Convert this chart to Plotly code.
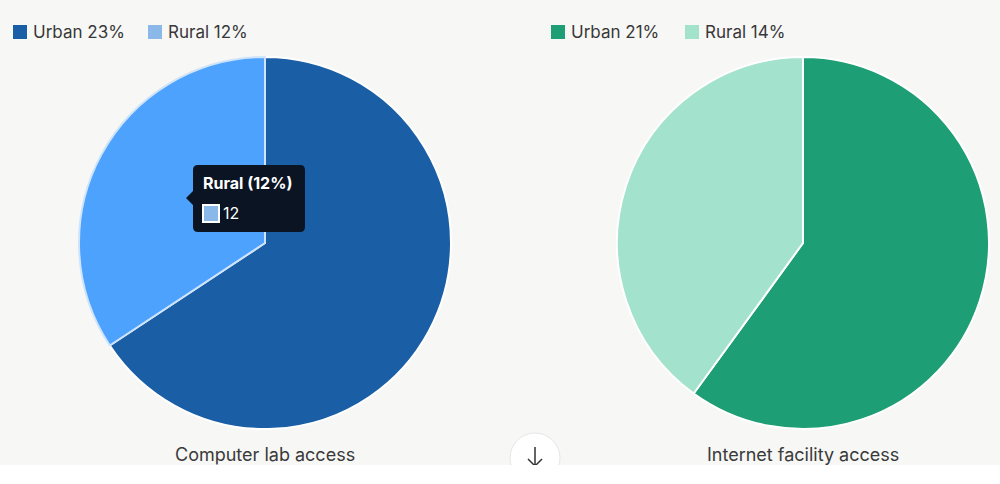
import plotly.graph_objects as go

W, H = 1000, 484

# data
categories = ["Urban", "Rural"]
computer_lab = [23, 12]
internet_access = [21, 14]
chart_titles = ["Computer lab access", "Internet facility access"]

lab_colors = ["#1a5ea6", "#4da2fe"]
lab_legend_colors = ["#1a5ea6", "#8ab8e8"]
net_colors = ["#1e9e74", "#a3e2cc"]

FONT = "Inter, Noto Sans, sans-serif"


def px(x):
    return x / W


def py(y):
    return 1 - y / H


fig = go.Figure()

fig.add_trace(go.Pie(
    labels=categories,
    values=computer_lab,
    sort=False,
    direction="clockwise",
    rotation=0,
    textinfo="none",
    hoverinfo="none",
    marker=dict(colors=lab_colors, line=dict(color=["#ffffff", "#cfe4fb"], width=2)),
    domain=dict(x=[px(79), px(451)], y=[py(429), py(57)]),
    showlegend=False,
))

fig.add_trace(go.Pie(
    labels=categories,
    values=internet_access,
    sort=False,
    direction="clockwise",
    rotation=0,
    textinfo="none",
    hoverinfo="none",
    marker=dict(colors=net_colors, line=dict(color="#ffffff", width=2)),
    domain=dict(x=[px(617), px(989)], y=[py(429), py(57)]),
    showlegend=False,
))

shapes = []
annotations = []

# legends drawn by hand (swatch + label)
legend_sets = [
    (computer_lab, lab_legend_colors, [13, 148]),
    (internet_access, net_colors, [551, 685]),
]
for values, colors, xs in legend_sets:
    for x0, label, val, col in zip(xs, categories, values, colors):
        shapes.append(dict(
            type="rect", xref="paper", yref="paper",
            x0=px(x0), x1=px(x0 + 14), y0=py(39), y1=py(25),
            fillcolor=col, line=dict(width=0), layer="above",
        ))
        annotations.append(dict(
            xref="paper", yref="paper", x=px(x0 + 18), y=py(32),
            xanchor="left", yanchor="middle", showarrow=False,
            text=f"{label} {val}%",
            font=dict(family=FONT, size=17, color="#383838"),
        ))

# titles under each pie
for cx, title in zip([265, 803], chart_titles):
    annotations.append(dict(
        xref="paper", yref="paper", x=px(cx), y=py(454),
        xanchor="center", yanchor="middle", showarrow=False,
        text=title, font=dict(family=FONT, size=18, color="#3a3a3a"),
    ))

# hover tooltip on the rural slice
bx0, bx1, by0, by1, r = 193, 305, 165, 232, 5
path = (
    f"M {px(bx0 + r)},{py(by0)} L {px(bx1 - r)},{py(by0)} "
    f"Q {px(bx1)},{py(by0)} {px(bx1)},{py(by0 + r)} "
    f"L {px(bx1)},{py(by1 - r)} Q {px(bx1)},{py(by1)} {px(bx1 - r)},{py(by1)} "
    f"L {px(bx0 + r)},{py(by1)} Q {px(bx0)},{py(by1)} {px(bx0)},{py(by1 - r)} "
    f"L {px(bx0)},{py(205)} L {px(186)},{py(198)} L {px(bx0)},{py(191)} "
    f"L {px(bx0)},{py(by0 + r)} Q {px(bx0)},{py(by0)} {px(bx0 + r)},{py(by0)} Z"
)
shapes.append(dict(type="path", xref="paper", yref="paper", path=path,
                   fillcolor="#0a1422", line=dict(width=0), layer="above"))
shapes.append(dict(type="rect", xref="paper", yref="paper",
                   x0=px(203), x1=px(219), y0=py(222), y1=py(205),
                   fillcolor=lab_legend_colors[1], line=dict(color="#ffffff", width=2),
                   layer="above"))
annotations.append(dict(
    xref="paper", yref="paper", x=px(201), y=py(183),
    xanchor="left", yanchor="middle", showarrow=False,
    text=f"<b>{categories[1]} ({computer_lab[1]}%)</b>",
    font=dict(family=FONT, size=16, color="#ffffff"),
))
annotations.append(dict(
    xref="paper", yref="paper", x=px(221), y=py(213),
    xanchor="left", yanchor="middle", showarrow=False,
    text=str(computer_lab[1]),
    font=dict(family=FONT, size=16, color="#ffffff"),
))

# scroll button and the white strip at the bottom
shapes.append(dict(type="circle", xref="paper", yref="paper",
                   x0=px(510), x1=px(560), y0=py(483), y1=py(433),
                   fillcolor="#ffffff", line=dict(color="#e6e6e6", width=1),
                   layer="above"))
shapes.append(dict(type="path", xref="paper", yref="paper",
                   path=(f"M {px(535)},{py(447)} L {px(535)},{py(466)} "
                         f"M {px(528)},{py(459)} L {px(535)},{py(466)} L {px(542)},{py(459)}"),
                   line=dict(color="#333333", width=1.5), layer="above"))
shapes.append(dict(type="rect", xref="paper", yref="paper",
                   x0=0, x1=1, y0=0, y1=py(465),
                   fillcolor="#ffffff", line=dict(width=0), layer="above"))

fig.update_layout(
    width=W,
    height=H,
    margin=dict(l=0, r=0, t=0, b=0),
    paper_bgcolor="#f7f7f5",
    plot_bgcolor="#f7f7f5",
    shapes=shapes,
    annotations=annotations,
)

fig.write_html(
    "out.html",
    config={"displayModeBar": False},
    post_script="document.body.style.margin='0';document.body.style.overflow='hidden';",
)
